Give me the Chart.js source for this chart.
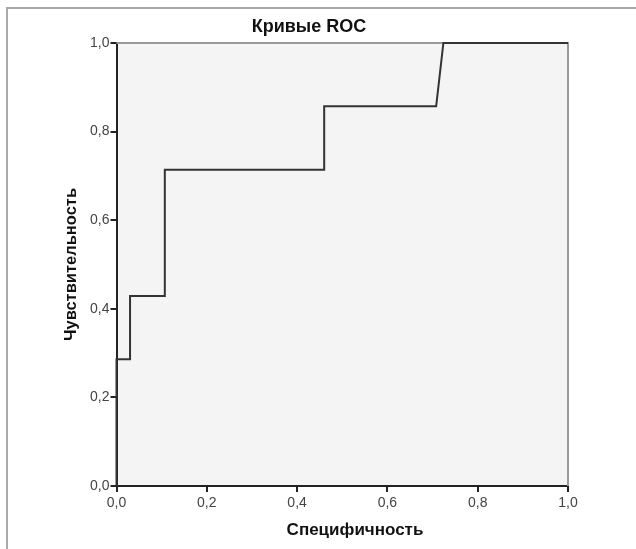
<!DOCTYPE html>
<html><head><meta charset="utf-8">
<script src="https://cdn.jsdelivr.net/npm/chart.js@4/dist/chart.umd.min.js"></script>
<style>html,body{margin:0;padding:0;background:#fff}canvas{display:block}</style>
</head><body>
<canvas id="c" width="636" height="549"></canvas>
<script>
// ROC curve data (1 - specificity, sensitivity)
const falsePositiveRate = [0, 0, 0.03, 0.03, 0.107, 0.107, 0.46, 0.46, 0.708, 0.724, 1.0];
const sensitivity       = [0, 0.286, 0.286, 0.429, 0.429, 0.714, 0.714, 0.857, 0.857, 1.0, 1.0];
const tickValues = [0, 0.2, 0.4, 0.6, 0.8, 1.0];
const chartTitle = 'Кривые ROC';
const xTitle = 'Специфичность';
const yTitle = 'Чувствительность';

const points = falsePositiveRate.map((x, i) => ({x: x, y: sensitivity[i]}));
const fmt = v => Number(v).toFixed(1).replace('.', ',');
const FAM = '"Liberation Sans", Arial, sans-serif';

const decor = {
  id: 'decor',
  beforeDraw(chart) {
    const ctx = chart.ctx, a = chart.chartArea;
    ctx.save();
    ctx.fillStyle = '#fff';
    ctx.fillRect(0, 0, chart.width, chart.height);
    ctx.fillStyle = '#aaaaaa';
    ctx.fillRect(6, 7, chart.width - 6, 2);
    ctx.fillRect(6, 7, 2, chart.height - 7);
    ctx.fillStyle = '#f4f4f4';
    ctx.fillRect(a.left, a.top, a.right - a.left, a.bottom - a.top);
    ctx.restore();
  },
  beforeDatasetsDraw(chart) {
    const ctx = chart.ctx, a = chart.chartArea;
    ctx.save();
    ctx.strokeStyle = '#999';
    ctx.lineWidth = 2;
    ctx.beginPath();
    ctx.moveTo(a.left, a.top);
    ctx.lineTo(a.right, a.top);
    ctx.lineTo(a.right, a.bottom);
    ctx.stroke();
    ctx.restore();
  },
  afterDraw(chart) {
    const ctx = chart.ctx, a = chart.chartArea;
    ctx.save();
    ctx.fillStyle = '#111';
    ctx.font = 'bold 18px ' + FAM;
    ctx.textAlign = 'center';
    ctx.textBaseline = 'middle';
    ctx.fillText(chartTitle, 309, 27);
    ctx.font = 'bold 17px ' + FAM;
    ctx.fillText(xTitle, 355, 530);
    ctx.restore();
  }
};

new Chart(document.getElementById('c'), {
  type: 'scatter',
  data: {
    datasets: [{
      data: points,
      showLine: true,
      borderColor: '#333',
      borderWidth: 2,
      pointRadius: 0,
      tension: 0,
      fill: false,
      clip: false
    }]
  },
  options: {
    responsive: false,
    animation: false,
    events: [],
    layout: {padding: {top: 43, right: 68, left: 0, bottom: 0}},
    plugins: {legend: {display: false}, title: {display: false}, tooltip: {enabled: false}},
    scales: {
      x: {
        type: 'linear', min: 0, max: 1,
        afterBuildTicks: s => { s.ticks = tickValues.map(v => ({value: v})); },
        afterFit: s => { s.height = 63; },
        border: {color: '#222', width: 2},
        grid: {drawOnChartArea: false, tickLength: 6, color: '#222', lineWidth: 2},
        ticks: {padding: 3, color: '#444', font: {size: 14, family: FAM}, callback: v => fmt(v), maxRotation: 0},
        title: {display: false}
      },
      y: {
        type: 'linear', min: 0, max: 1,
        afterBuildTicks: s => { s.ticks = tickValues.map(v => ({value: v})); },
        afterFit: s => { s.width = 116.5; },
        border: {color: '#222', width: 2},
        grid: {drawOnChartArea: false, tickLength: 6, color: '#222', lineWidth: 2},
        ticks: {padding: 1, color: '#444', font: {size: 14, family: FAM}, callback: v => fmt(v)},
        title: {display: true, text: yTitle, color: '#111', padding: {top: 62, bottom: 0},
          font: {size: 16.5, weight: 'bold', family: FAM}}
      }
    }
  },
  plugins: [decor]
});
</script>
</body></html>
